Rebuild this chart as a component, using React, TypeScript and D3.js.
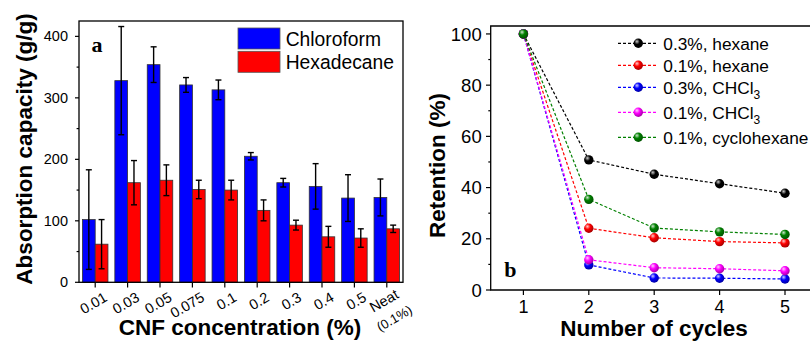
import React from 'react';
import * as d3 from 'd3';

// panel a: absorption capacity (g/g)
const categories = ['0.01', '0.03', '0.05', '0.075', '0.1', '0.2', '0.3', '0.4', '0.5', 'Neat'];
const chloroform = [102, 328, 354, 321, 313, 205, 162, 156, 137, 138];
const chloroformErr = [81, 88, 29, 12, 16, 6, 7, 37, 38, 30];
const hexadecane = [62, 162, 166, 151, 150, 117, 93, 74, 72, 87];
const hexadecaneErr = [40, 36, 25, 15, 16, 17, 8, 17, 15, 6];
const barTicks = [0, 100, 200, 300, 400];

// panel b: retention (%)
const cycles = [1, 2, 3, 4, 5];
const hexane03 = [100, 50.8, 45.2, 41.5, 37.8];
const hexane01 = [100, 24.1, 20.4, 18.9, 18.4];
const chcl03 = [100, 9.8, 4.7, 4.6, 4.3];
const chcl01 = [100, 11.8, 8.7, 8.3, 7.5];
const cyclo01 = [100, 35.4, 24.2, 22.7, 21.7];
const retTicks = [0, 20, 40, 60, 80, 100];

const series = [
  { key: 'k', label: '0.3%, hexane', sub: '', color: '#000000', values: hexane03 },
  { key: 'r', label: '0.1%, hexane', sub: '', color: '#ff0000', values: hexane01 },
  { key: 'b', label: '0.3%, CHCl', sub: '3', color: '#0000ff', values: chcl03 },
  { key: 'm', label: '0.1%, CHCl', sub: '3', color: '#ff00ff', values: chcl01 },
  { key: 'g', label: '0.1%, cyclohexane', sub: '', color: '#008000', values: cyclo01 },
];

const SANS = '"Liberation Sans", Arial, sans-serif';
const SERIF = '"Liberation Serif", "Times New Roman", serif';

const BarPanel = () => {
  const x0 = d3.scaleBand().domain(categories).range([79, 403]);
  const x1 = d3
    .scaleBand()
    .domain(['c', 'h'])
    .range([0, x0.bandwidth()])
    .paddingOuter(0.27);
  const y = d3.scaleLinear().domain([0, 425]).range([282.3, 21]);
  const minor = d3.range(50, 425, 100);
  const bw = x1.bandwidth();

  const bars = (vals, errs, k, color) =>
    vals.map((v, i) => {
      const bx = x0(categories[i]) + x1(k);
      const cx = bx + bw / 2;
      return (
        <g key={k + i}>
          <rect x={bx} y={y(v)} width={bw} height={y(0) - y(v)} fill={color} stroke="#333" strokeWidth={0.8} />
          <line x1={cx} x2={cx} y1={y(v + errs[i])} y2={y(v - errs[i])} stroke="#000" strokeWidth={1.4} />
          <line x1={cx - 3} x2={cx + 3} y1={y(v + errs[i])} y2={y(v + errs[i])} stroke="#000" strokeWidth={1.4} />
          <line x1={cx - 3} x2={cx + 3} y1={y(v - errs[i])} y2={y(v - errs[i])} stroke="#000" strokeWidth={1.4} />
        </g>
      );
    });

  return (
    <g>
      {bars(chloroform, chloroformErr, 'c', '#0000ff')}
      {bars(hexadecane, hexadecaneErr, 'h', '#ff0000')}
      <rect x={79} y={21} width={324} height={261.3} fill="none" stroke="#000" strokeWidth={1.3} />
      {barTicks.map(t => (
        <g key={'yt' + t}>
          <line x1={75} x2={79} y1={y(t)} y2={y(t)} stroke="#000" strokeWidth={1.2} />
          <text x={68} y={y(t)} dy="0.35em" textAnchor="end" fontSize={14.5} fontFamily={SANS}>{t}</text>
        </g>
      ))}
      {minor.map(t => (
        <line key={'ym' + t} x1={76.6} x2={79} y1={y(t)} y2={y(t)} stroke="#000" strokeWidth={1.2} />
      ))}
      {categories.map(c => {
        const cx = x0(c) + x0.bandwidth() / 2;
        return (
          <g key={'xt' + c}>
            <line x1={cx} x2={cx} y1={282.3} y2={287.5} stroke="#000" strokeWidth={1.2} />
            <text
              transform={`translate(${cx + 10.5},${c === 'Neat' ? 293 : 296}) rotate(-30)`}
              textAnchor="end"
              dominantBaseline="central"
              fontSize={14.5}
              fontFamily={SANS}>
              {c}
              {c === 'Neat' && (
                <tspan x={4} dy={20} fontSize={13}>(0.1%)</tspan>
              )}
            </text>
          </g>
        );
      })}
      <text transform="translate(31.5,149) rotate(-90)" textAnchor="middle" fontSize={22.5} fontWeight="bold" fontFamily={SANS}>
        Absorption capacity (g/g)
      </text>
      <text x={240} y={334.5} textAnchor="middle" fontSize={22.5} fontWeight="bold" fontFamily={SANS}>
        CNF concentration (%)
      </text>
      <text x={91.5} y={51.7} fontSize={22} fontWeight="bold" fontFamily={SERIF}>a</text>
      <rect x={238} y={28} width={42} height={21} fill="#0000ff" stroke="#555" strokeWidth={0.8} />
      <rect x={238} y={51.3} width={42} height={21} fill="#ff0000" stroke="#555" strokeWidth={0.8} />
      <text x={285.7} y={45.7} fontSize={19.3} fontFamily={SANS}>Chloroform</text>
      <text x={285.7} y={69} fontSize={19.3} fontFamily={SANS}>Hexadecane</text>
    </g>
  );
};

const LinePanel = () => {
  const x = d3.scaleLinear().domain([0.5, 5.5]).range([490.7, 817.7]);
  const y = d3.scaleLinear().domain([0, 103.1]).range([290, 26]);
  const line = d3
    .line<number>()
    .x((d, i) => x(cycles[i]))
    .y(d => y(d));
  const minor = d3.range(10, 101, 20);
  const r = 4.7;

  let ly = 43.3;
  const legendY = series.map((s, i) => {
    if (i > 0) ly += series[i - 1].sub ? 25 : 22;
    return ly;
  });

  return (
    <g>
      <defs>
        {series.map(s => (
          <radialGradient key={'grad' + s.key} id={'ball-' + s.key} cx="38%" cy="35%" r="65%" fx="35%" fy="30%">
            <stop offset="0%" stopColor={d3.interpolateRgb(s.color, '#ffffff')(0.8)} />
            <stop offset="45%" stopColor={s.color} />
            <stop offset="100%" stopColor={d3.color(s.color).darker(1.2).formatHex()} />
          </radialGradient>
        ))}
      </defs>
      <polyline
        points={`817.7,26 490.7,26 490.7,290 817.7,290`}
        fill="none"
        stroke="#000"
        strokeWidth={1.3}
      />
      {retTicks.map(t => (
        <g key={'ryt' + t}>
          <line x1={486} x2={490.7} y1={y(t)} y2={y(t)} stroke="#000" strokeWidth={1.2} />
          <text x={481.7} y={y(t)} dy="0.36em" textAnchor="end" fontSize={18.5} fontFamily={SANS}>{t}</text>
        </g>
      ))}
      {minor.map(t => (
        <line key={'rym' + t} x1={488.3} x2={490.7} y1={y(t)} y2={y(t)} stroke="#000" strokeWidth={1.2} />
      ))}
      {cycles.map(c => (
        <g key={'rxt' + c}>
          <line x1={x(c)} x2={x(c)} y1={290} y2={295} stroke="#000" strokeWidth={1.2} />
          <text x={x(c)} y={312.5} textAnchor="middle" fontSize={18} fontFamily={SANS}>{c}</text>
        </g>
      ))}
      {series.map(s => (
        <g key={'s' + s.key}>
          <path d={line(s.values)} fill="none" stroke={s.color} strokeWidth={1.2} strokeDasharray="3,2" />
          {s.values.map((v, i) => (
            <circle key={i} cx={x(cycles[i])} cy={y(v)} r={r} fill={`url(#ball-${s.key})`} />
          ))}
        </g>
      ))}
      {series.map((s, i) => (
        <g key={'leg' + s.key}>
          <line x1={618} x2={658} y1={legendY[i]} y2={legendY[i]} stroke={s.color} strokeWidth={1.2} strokeDasharray="3,2" />
          <circle cx={638.3} cy={legendY[i]} r={r} fill={`url(#ball-${s.key})`} />
          <text x={663.3} y={legendY[i] + 6.5} fontSize={17.3} fontFamily={SANS}>
            {s.label}
            {s.sub && (
              <tspan dy={5} fontSize={12}>{s.sub}</tspan>
            )}
          </text>
        </g>
      ))}
      <text transform="translate(445,165.5) rotate(-90)" textAnchor="middle" fontSize={22.5} fontWeight="bold" fontFamily={SANS}>
        Retention (%)
      </text>
      <text x={654} y={335.5} textAnchor="middle" fontSize={22.5} fontWeight="bold" fontFamily={SANS}>
        Number of cycles
      </text>
      <text x={504.3} y={276.7} fontSize={22} fontWeight="bold" fontFamily={SERIF}>b</text>
    </g>
  );
};

const App = () => (
  <svg
    width={810}
    height={342}
    style={{ position: 'absolute', left: 0, top: 0, background: '#fff' }}>
    <BarPanel />
    <LinePanel />
  </svg>
);

export default App;
